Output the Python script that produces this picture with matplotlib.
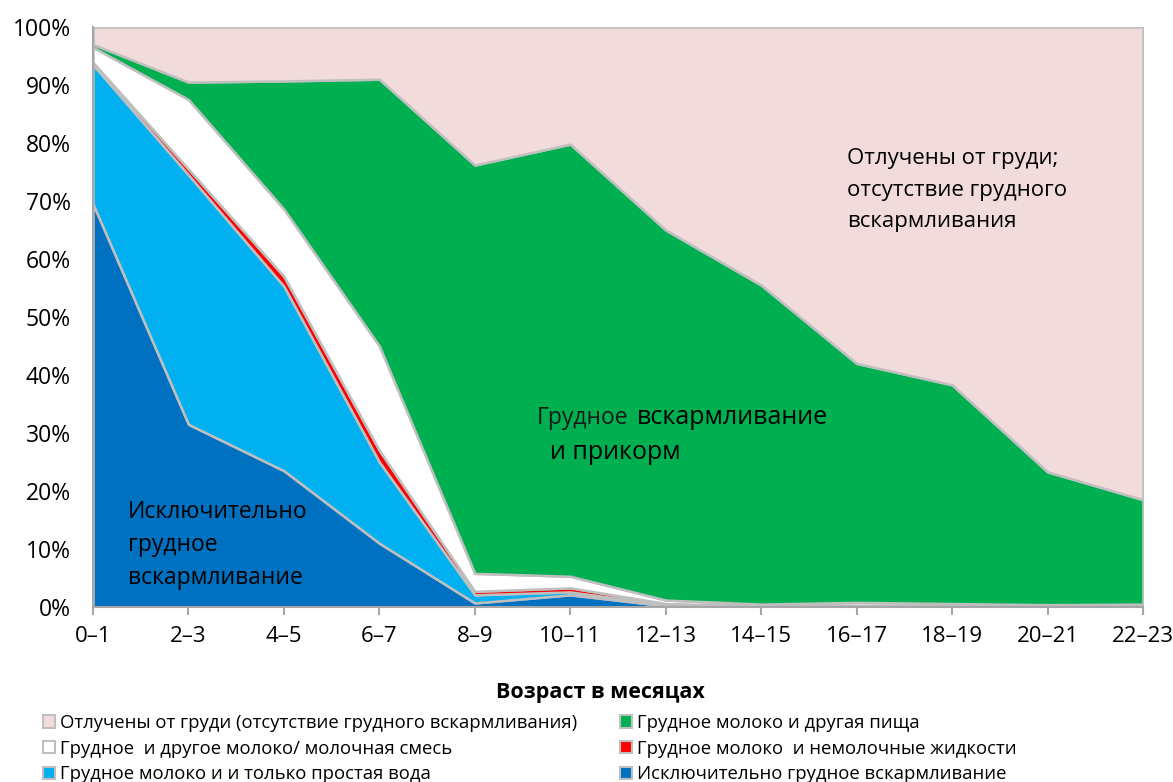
import matplotlib
matplotlib.use("Agg")
import matplotlib.pyplot as plt
from matplotlib.patches import Patch
import numpy as np

plt.rcParams['font.family'] = ['Open Sans', 'DejaVu Sans']

# Age groups (months)
ages = ["0–1", "2–3", "4–5", "6–7", "8–9", "10–11", "12–13", "14–15", "16–17", "18–19", "20–21", "22–23"]

# Shares in percent, bottom to top
exclusive = [69.5, 31.5, 23.5, 11.0, 0.7, 2.1, 0.2, 0.0, 0.0, 0.0, 0.0, 0.0]
water = [24.0, 43.0, 31.8, 14.0, 1.4, 0.5, 0.2, 0.1, 0.2, 0.1, 0.1, 0.1]
nonmilk = [0.4, 1.0, 1.7, 2.0, 0.6, 0.7, 0.2, 0.1, 0.1, 0.1, 0.1, 0.1]
othermilk = [2.6, 12.0, 11.6, 18.0, 3.1, 2.0, 0.6, 0.3, 0.5, 0.4, 0.2, 0.3]
food = [0.5, 3.0, 22.1, 46.0, 70.4, 74.5, 63.8, 55.0, 41.2, 37.7, 22.9, 18.0]
weaned = list(100 - np.sum([exclusive, water, nonmilk, othermilk, food], axis=0))

colors = ["#0070C0", "#00B0F0", "#FF0000", "#FFFFFF", "#00B050", "#F2DCDB"]
labels = ["Исключительно грудное вскармливание",
          "Грудное молоко и и только простая вода",
          "Грудное молоко  и немолочные жидкости",
          "Грудное  и другое молоко/ молочная смесь",
          "Грудное молоко и другая пища",
          "Отлучены от груди (отсутствие грудного вскармливания)"]

fig = plt.figure(figsize=(11.73, 7.82), dpi=100)
ax = fig.add_axes([0.0793, 0.2238, 0.8951, 0.7417])

x = np.arange(len(ages))
ax.stackplot(x, exclusive, water, nonmilk, othermilk, food, weaned,
             colors=colors, edgecolor="#BFBFBF", linewidth=1.8)

ax.set_xlim(0, len(ages) - 1)
ax.set_ylim(0, 100)
ax.set_yticks(range(0, 101, 10))
ax.set_yticklabels([f"{v}%" for v in range(0, 101, 10)], fontsize=16.5)
ax.set_xticks(x)
ax.set_xticklabels(ages, fontsize=16)
ax.tick_params(axis="x", length=6, color="#A6A6A6", width=1.5, pad=8)
ax.tick_params(axis="y", length=0, pad=16)
for s in ["top", "right"]:
    ax.spines[s].set_visible(False)
for s in ["left", "bottom"]:
    ax.spines[s].set_color("#A6A6A6")
    ax.spines[s].set_linewidth(1.5)

# area annotations
for txt, yy in [("Отлучены от груди;", 77.3), ("отсутствие грудного", 71.8), ("вскармливания", 66.5)]:
    ax.text(7.90, yy, txt, fontsize=16, va="center", ha="left")
ax.text(4.65, 32.6, "Грудное", fontsize=16.5, va="center", ha="left", color="#1a1a1a")
ax.text(5.70, 32.6, "вскармливание", fontsize=18, va="center", ha="left")
ax.text(4.79, 26.6, "и прикорм", fontsize=18, va="center", ha="left")
for txt, yy in [("Исключительно", 16.3), ("грудное", 10.7), ("вскармливание", 5.0)]:
    ax.text(0.367, yy, txt, fontsize=16.5, va="center", ha="left")

fig.text(0.512, 0.108, "Возраст в месяцах", fontsize=15.5, fontweight="bold", ha="center")

order = [5, 3, 1, 4, 2, 0]
handles = [Patch(facecolor=colors[i], edgecolor="#BFBFBF", linewidth=1.5) for i in order]
fig.legend(handles, [labels[i] for i in order], ncol=2, loc="lower left",
           bbox_to_anchor=(0.027, -0.016), frameon=False, fontsize=13.3,
           handlelength=0.65, handleheight=0.65, handletextpad=0.3,
           columnspacing=2.3, labelspacing=0.42, borderaxespad=0.2)

fig.savefig("out.png", dpi=100)
